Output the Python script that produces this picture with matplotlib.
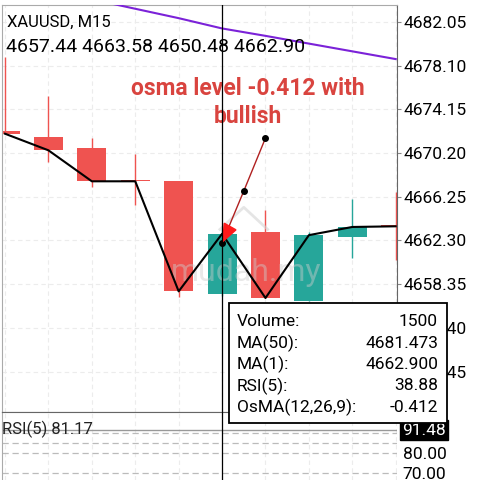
"""
XAUUSD M15 candlestick chart with MA(50), MA(1), RSI pane and a tooltip.
"""
import matplotlib

matplotlib.use("Agg")
import matplotlib.pyplot as plt
import numpy as np
from matplotlib.patches import Polygon, Rectangle

plt.rcParams["font.family"] = ["Roboto", "DejaVu Sans"]

# candle data (index 0 is the leftmost, partly cut candle)
opens = [4672.22, 4671.68, 4670.68, 4667.70, 4667.65, 4657.44, 4663.05, 4656.80, 4662.64, 4663.62]
highs = [4678.89, 4675.39, 4671.56, 4670.10, 4667.65, 4663.58, 4665.05, 4663.10, 4666.02, 4666.68]
lows = [4671.92, 4669.42, 4667.13, 4665.50, 4657.20, 4657.30, 4657.10, 4656.80, 4660.68, 4660.53]
closes = [4671.95, 4670.45, 4667.65, 4667.65, 4657.70, 4662.90, 4657.10, 4662.78, 4663.52, 4663.58]
ma50 = [4685.90, 4685.00, 4684.10, 4683.25, 4682.40, 4681.47, 4680.80, 4680.10, 4679.40, 4678.70]

price_ticks = [4682.05, 4678.10, 4674.15, 4670.20, 4666.25, 4662.30, 4658.35, 4654.40, 4650.45]
rsi_levels = [90, 85, 80, 70]
rsi_labels = [80.00, 70.00]
rsi_now = 91.48

# user drawn trend line (bar index, price)
trend_x = [5.0, 5.5, 6.0]
trend_y = [4662.07, 4666.77, 4671.56]
flag_x = [5.05, 5.32, 5.016]
flag_y = [4663.86, 4663.26, 4662.20]

header = "XAUUSD, M15"
ohlc_text = "4657.44 4663.58 4650.48 4662.90"
note = "osma level -0.412 with\nbullish"
tip_names = ["Volume:", "MA(50):", "MA(1):", "RSI(5):", "OsMA(12,26,9):"]
tip_values = ["1500", "4681.473", "4662.900", "38.88", "-0.412"]

RED = "#ef5350"
TEAL = "#26a69a"
GRID = "#ececec"

W, H = 489, 480
fig = plt.figure(figsize=(W / 100, H / 100), dpi=100)


def fx(px):
    return px / W


def fy(py):
    return 1 - py / H


ax = fig.add_axes([fx(2), fy(412), fx(397) - fx(2), fy(5) - fy(412)])
rax = fig.add_axes([fx(2), 0, fx(397) - fx(2), fy(412)])

n = len(opens)
x = np.arange(n)
o, h, l, c = map(np.array, (opens, highs, lows, closes))
up = c >= o
cols = np.where(up, TEAL, RED)

# grid
for xi in x:
    ax.axvline(xi, color=GRID, lw=0.8, ls=(0, (4, 3)), zorder=0)
    rax.axvline(xi, color=GRID, lw=0.8, ls=(0, (4, 3)), zorder=0)
for p in price_ticks:
    ax.axhline(p, color=GRID, lw=0.8, ls=(0, (4, 3)), zorder=0)

# candles
ax.vlines(x, l, h, colors=cols, lw=1.0, zorder=2)
body = np.maximum(np.abs(c - o), 0.1)
ax.bar(x, body, bottom=np.minimum(o, c), width=0.67, color=cols, zorder=2)

# MA lines
ax.plot(x, ma50, color="#7b22d8", lw=1.5, zorder=3)
ax.plot(x, closes, color="black", lw=1.5, zorder=3)

# watermark
ax.text(5.55, 4659.4, "mudah.my", fontsize=23, color="#cccccc", alpha=0.45,
        ha="center", va="center", zorder=2.5)
ax.plot([4.95, 5.5, 6.05], [4663.3, 4665.3, 4663.3], color="#d5d5d5", lw=2, alpha=0.6, zorder=2.5)

# trend line + flag
ax.plot(trend_x, trend_y, color="#b02020", lw=1.0, zorder=4)
ax.plot(trend_x, trend_y, "o", color="black", ms=4, zorder=5)
ax.add_patch(Polygon(np.column_stack([flag_x, flag_y]), closed=True, color="#ff1a1a", zorder=5))

ax.text(5.6, 4674.8, note, color="#d9443f", fontsize=16.5, fontweight="semibold",
        ha="center", va="center", linespacing=1.3, zorder=6)

# crosshair
ax.axvline(5.0, color="black", lw=0.9, zorder=6)
rax.axvline(5.0, color="black", lw=0.9, zorder=6)

ax.set_xlim(-0.07, 9.03)
ax.set_ylim(4646.79, 4683.59)
ax.set_xticks([])
ax.yaxis.tick_right()
ax.set_yticks(price_ticks)
ax.set_yticklabels([f"{p:.2f}" for p in price_ticks])
ax.tick_params(axis="y", length=3, width=0.8, color="#888888", labelsize=12.5, pad=2)
for side in ["left", "top"]:
    ax.spines[side].set_color("#aaaaaa")
for side in ["right", "bottom"]:
    ax.spines[side].set_color("#666666")

ax.text(0.013, 0.957, header, transform=ax.transAxes, fontsize=12, va="center")
ax.text(0.01, 0.897, ohlc_text, transform=ax.transAxes, fontsize=14, va="center")

# RSI pane
for lv in rsi_levels:
    rax.axhline(lv, color="#bbbbbb", lw=0.9, ls=(0, (5, 3)), zorder=1)
rax.axhline(rsi_now, color="#999999", lw=1.0, zorder=2)
rax.set_xlim(-0.07, 9.03)
rax.set_ylim(66.5, 100.5)
rax.set_xticks([])
rax.yaxis.tick_right()
rax.set_yticks(rsi_labels)
rax.set_yticklabels([f"{v:.2f}" for v in rsi_labels])
rax.tick_params(axis="y", length=0, labelsize=12.5, pad=4)
rax.spines["left"].set_color("#aaaaaa")
rax.spines["top"].set_color("#666666")
rax.spines["bottom"].set_visible(False)
rax.spines["right"].set_visible(False)
rax.text(0.0, 0.74, "RSI(5) 81.17", transform=rax.transAxes, fontsize=12, va="center", color="#222222")
rax.text(1.012, (rsi_now - 66.5) / 34, f"{rsi_now:.2f}", transform=rax.transAxes, fontsize=12.5,
         va="center", ha="left", color="white",
         bbox=dict(boxstyle="square,pad=0.12", fc="black", ec="black"))

# tooltip box drawn on the figure so it sits above both panes
fig.add_artist(Rectangle((fx(229), fy(423)), fx(447) - fx(229), fy(303) - fy(423),
                         transform=fig.transFigure, fc="white", ec="black", lw=1.3, zorder=10))
for k, (nm, val) in enumerate(zip(tip_names, tip_values)):
    yy = fy(322 + k * 21.3)
    fig.text(fx(237), yy, nm, fontsize=12.5, va="center", ha="left", zorder=11)
    fig.text(fx(438), yy, val, fontsize=12.5, va="center", ha="right", zorder=11)

fig.savefig("out.png", dpi=100)
